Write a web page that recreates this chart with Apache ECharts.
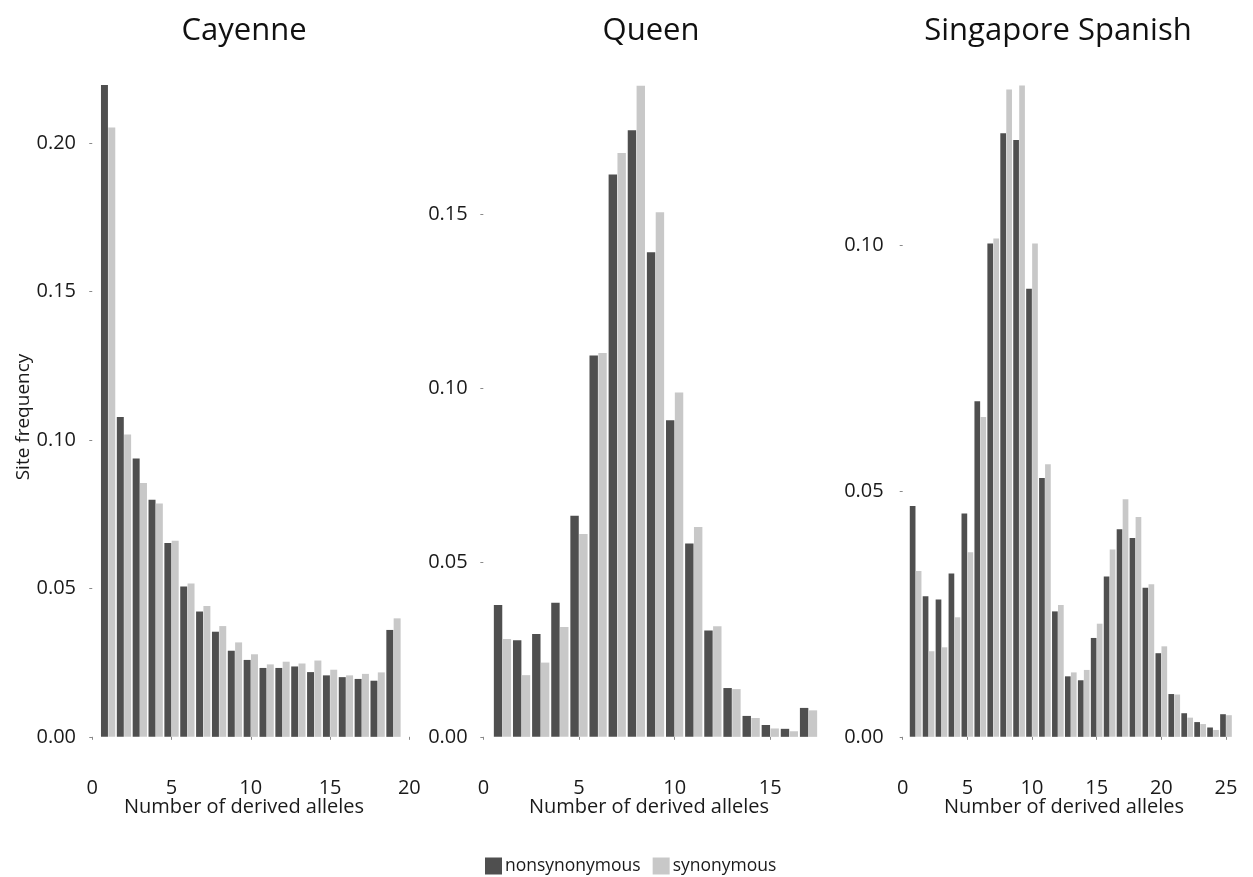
<!DOCTYPE html>
<html>
<head>
<meta charset="utf-8">
<script src="https://cdn.jsdelivr.net/npm/echarts@6/dist/echarts.min.js"></script>
<style>
  html, body { margin: 0; padding: 0; background: #ffffff; }
  #chart { width: 1253px; height: 877px; }
</style>
</head>
<body>
<div id="chart"></div>
<script>
// Site frequency spectra: fraction of sites by number of derived alleles
const cayenneNonsyn = [0.220, 0.1077, 0.0937, 0.0798, 0.0653, 0.0506, 0.0422, 0.0354, 0.0290, 0.0259,
                       0.0232, 0.0232, 0.0237, 0.0218, 0.0207, 0.0201, 0.0195, 0.0189, 0.0360];
const cayenneSyn    = [0.2052, 0.1018, 0.0855, 0.0786, 0.0660, 0.0516, 0.0441, 0.0373, 0.0318, 0.0278,
                       0.0244, 0.0253, 0.0247, 0.0257, 0.0226, 0.0207, 0.0212, 0.0217, 0.0399];

const queenNonsyn = [0.0378, 0.0277, 0.0295, 0.0385, 0.0634, 0.1094, 0.1613, 0.1740, 0.1390, 0.0908,
                     0.0555, 0.0305, 0.0140, 0.0060, 0.0034, 0.0023, 0.0083];
const queenSyn    = [0.0281, 0.0177, 0.0213, 0.0315, 0.0582, 0.1101, 0.1675, 0.1868, 0.1505, 0.0988,
                     0.0602, 0.0317, 0.0137, 0.0054, 0.0024, 0.0016, 0.0076];

const spanishNonsyn = [0.0469, 0.0286, 0.0279, 0.0332, 0.0454, 0.0682, 0.1003, 0.1227, 0.1213, 0.0911,
                       0.0526, 0.0255, 0.0123, 0.0115, 0.0201, 0.0326, 0.0422, 0.0404, 0.0303, 0.0170,
                       0.0087, 0.0048, 0.0030, 0.0019, 0.0046];
const spanishSyn    = [0.0337, 0.0174, 0.0182, 0.0243, 0.0375, 0.0650, 0.1013, 0.1316, 0.1324, 0.1003,
                       0.0554, 0.0268, 0.0131, 0.0136, 0.0230, 0.0381, 0.0483, 0.0447, 0.0310, 0.0184,
                       0.0086, 0.0039, 0.0026, 0.0014, 0.0044];

const panelTitles = ['Cayenne', 'Queen', 'Singapore Spanish'];
const cayenneXTicks = [0, 5, 10, 15, 20];
const queenXTicks = [0, 5, 10, 15];
const spanishXTicks = [0, 5, 10, 15, 20, 25];
const cayenneYTicks = [0, 0.05, 0.10, 0.15, 0.20];
const queenYTicks = [0, 0.05, 0.10, 0.15];
const spanishYTicks = [0, 0.05, 0.10];

const seriesNames = ['nonsynonymous', 'synonymous'];
const xTitle = 'Number of derived alleles';
const yTitle = 'Site frequency';

const FONT = '"Open Sans", "Noto Sans", sans-serif';
const DARK = '#4f4f4f';
const LIGHT = '#c8c8c8';
const TEXT = '#1a1a1a';

// panel layout: pixel placement of each plot region and its axis ranges
const panels = [
  { title: panelTitles[0], non: cayenneNonsyn, syn: cayenneSyn, xTicks: cayenneXTicks, yTicks: cayenneYTicks,
    left: 86, width: 329.6, xMin: -0.395, xMax: 20.395, yTop: 0.2195, titleX: 244, nameX: 244 },
  { title: panelTitles[1], non: queenNonsyn, syn: queenSyn, xTicks: queenXTicks, yTicks: queenYTicks,
    left: 477.7, width: 355.6, xMin: -0.295, xMax: 18.295, yTop: 0.187, titleX: 651, nameX: 649 },
  { title: panelTitles[2], non: spanishNonsyn, syn: spanishSyn, xTicks: spanishXTicks, yTicks: spanishYTicks,
    left: 893.7, width: 354.2, xMin: -0.695, xMax: 26.695, yTop: 0.1325, titleX: 1058, nameX: 1064 }
];
const GRID_TOP = 85;
const GRID_H = 683;

const toPairs = arr => arr.map((v, i) => [i + 1, v]);

const grid = [], xAxis = [], yAxis = [], series = [], graphic = [];

panels.forEach((p, k) => {
  grid.push({ left: p.left, width: p.width, top: GRID_TOP, height: GRID_H, containLabel: false });
  xAxis.push({
    type: 'value', gridIndex: k, min: p.xMin, max: p.xMax,
    axisLine: { show: false },
    splitLine: { show: false },
    axisTick: { show: true, length: 3, customValues: p.xTicks, lineStyle: { color: '#8a8a8a', width: 1 } },
    axisLabel: { customValues: p.xTicks, margin: 10, fontSize: 20, color: TEXT, fontFamily: FONT }
  });
  yAxis.push({
    type: 'value', gridIndex: k, min: -0.0478 * p.yTop, max: p.yTop,
    axisLine: { show: false },
    splitLine: { show: false },
    axisTick: { show: true, length: 3, customValues: p.yTicks, lineStyle: { color: '#8a8a8a', width: 1 } },
    axisLabel: { customValues: p.yTicks, margin: 10, fontSize: 20, color: TEXT, fontFamily: FONT,
                 formatter: v => v.toFixed(2) }
  });
  series.push({
    name: seriesNames[0], type: 'bar', xAxisIndex: k, yAxisIndex: k,
    data: toPairs(p.non), barWidth: '44%', barGap: '5%', clip: true,
    itemStyle: { color: DARK }, emphasis: { disabled: true }
  });
  series.push({
    name: seriesNames[1], type: 'bar', xAxisIndex: k, yAxisIndex: k,
    data: toPairs(p.syn), barWidth: '44%', barGap: '5%', clip: true,
    itemStyle: { color: LIGHT }, emphasis: { disabled: true }
  });
  graphic.push({
    type: 'text', x: p.titleX, y: 31,
    style: { text: p.title, fill: '#111111', font: '31px ' + FONT, textAlign: 'center', textVerticalAlign: 'middle' }
  });
  graphic.push({
    type: 'text', x: p.nameX, y: 807,
    style: { text: xTitle, fill: TEXT, font: '20px ' + FONT, textAlign: 'center', textVerticalAlign: 'middle' }
  });
});

graphic.push({
  type: 'text', x: 24, y: 417, rotation: Math.PI / 2,
  style: { text: yTitle, fill: TEXT, font: '19px ' + FONT, textAlign: 'center', textVerticalAlign: 'middle' }
});

const chart = echarts.init(document.getElementById('chart'), null, { renderer: 'canvas' });
chart.setOption({
  animation: false,
  backgroundColor: '#ffffff',
  textStyle: { fontFamily: FONT },
  grid, xAxis, yAxis, series, graphic,
  legend: {
    data: seriesNames, left: 480, top: 852, icon: 'rect',
    itemWidth: 17, itemHeight: 17, itemGap: 12, selectedMode: false,
    textStyle: { fontSize: 17.5, color: TEXT, fontFamily: FONT, padding: [0, 0, 0, -2] }
  }
});
</script>
</body>
</html>
